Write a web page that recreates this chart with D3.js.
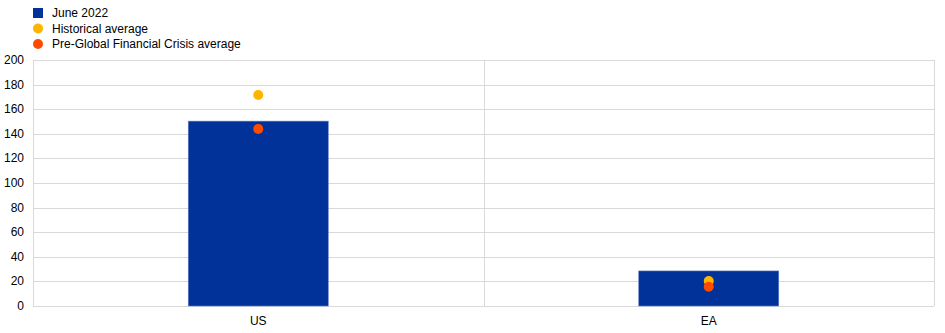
<!DOCTYPE html>
<html>
<head>
<meta charset="utf-8">
<style>
  body { margin: 0; background: #fff; }
  svg { display: block; font-family: "Liberation Sans", Arial, sans-serif; }
</style>
</head>
<body>
<script src="https://d3js.org/d3.v7.min.js"></script>
<script>
  // DATA
  const categories = ["US", "EA"];
  const june2022 = [150.3, 28.5];
  const historicalAvg = [171.5, 20.3];
  const preGfcAvg = [144, 15.7];
  const yTicks = [0, 20, 40, 60, 80, 100, 120, 140, 160, 180, 200];

  const width = 945, height = 333;
  const margin = { top: 60, right: 11, bottom: 27, left: 33 };

  const svg = d3.select("body").append("svg")
    .attr("width", width).attr("height", height);

  const x = d3.scaleBand().domain(categories)
    .range([margin.left, width - margin.right]).paddingInner(0).paddingOuter(0);
  const y = d3.scaleLinear().domain([0, 200])
    .range([height - margin.bottom, margin.top]);

  // horizontal gridlines
  svg.append("g").selectAll("line").data(yTicks).enter().append("line")
    .attr("x1", margin.left).attr("x2", width - margin.right)
    .attr("y1", d => Math.round(y(d)) + 0.5).attr("y2", d => Math.round(y(d)) + 0.5)
    .attr("stroke", "#d9d9d9").attr("stroke-width", 1);

  // vertical category separators
  const seps = [margin.left, x("EA"), width - margin.right];
  svg.append("g").selectAll("line").data(seps).enter().append("line")
    .attr("x1", d => Math.round(d) + 0.5).attr("x2", d => Math.round(d) + 0.5)
    .attr("y1", y(200)).attr("y2", y(0))
    .attr("stroke", "#d9d9d9").attr("stroke-width", 1);

  // y labels
  svg.append("g").selectAll("text").data(yTicks).enter().append("text")
    .attr("x", 24).attr("y", d => y(d) + 4)
    .attr("text-anchor", "end").attr("font-size", 12).attr("fill", "#000")
    .text(d => d);

  // x labels
  svg.append("g").selectAll("text").data(categories).enter().append("text")
    .attr("x", d => x(d) + x.bandwidth() / 2).attr("y", height - 8)
    .attr("text-anchor", "middle").attr("font-size", 12).attr("fill", "#000")
    .text(d => d);

  // bars
  const barW = 140;
  svg.append("g").selectAll("rect").data(june2022).enter().append("rect")
    .attr("x", (d, i) => x(categories[i]) + x.bandwidth() / 2 - barW / 2)
    .attr("width", barW)
    .attr("y", d => y(d))
    .attr("height", d => y(0) - y(d))
    .attr("fill", "#003299")
    .attr("stroke", "#5f7fc8").attr("stroke-width", 0.6);

  // dots
  function dots(vals, color) {
    svg.append("g").selectAll("circle").data(vals).enter().append("circle")
      .attr("cx", (d, i) => x(categories[i]) + x.bandwidth() / 2)
      .attr("cy", d => y(d))
      .attr("r", 5)
      .attr("fill", color);
  }
  dots(historicalAvg, "#ffb400");
  dots(preGfcAvg, "#ff4b00");

  // legend
  const legend = [
    { label: "June 2022", color: "#003299", shape: "rect" },
    { label: "Historical average", color: "#ffb400", shape: "circle" },
    { label: "Pre-Global Financial Crisis average", color: "#ff4b00", shape: "circle" }
  ];
  const lg = svg.append("g");
  legend.forEach((l, i) => {
    const cy = 13 + i * 15.5;
    if (l.shape === "rect") {
      lg.append("rect").attr("x", 33).attr("y", cy - 5).attr("width", 10).attr("height", 10).attr("fill", l.color);
    } else {
      lg.append("circle").attr("cx", 38).attr("cy", cy).attr("r", 5).attr("fill", l.color);
    }
    lg.append("text").attr("x", 52).attr("y", cy + 4).attr("font-size", 12).attr("fill", "#000").text(l.label);
  });
</script>
</body>
</html>
